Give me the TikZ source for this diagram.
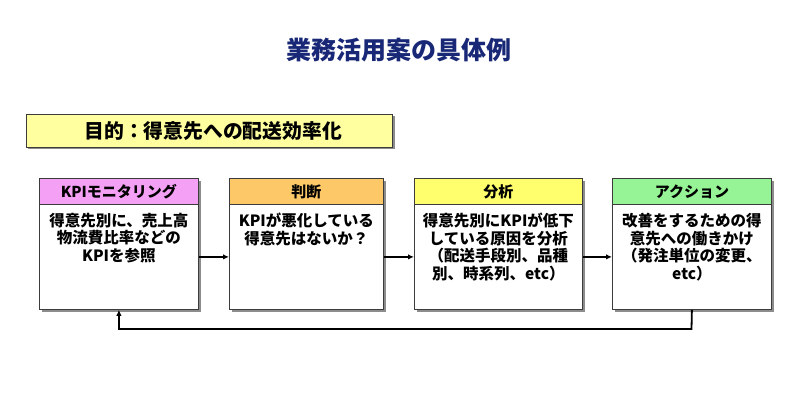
\documentclass[tikz,border=0pt]{standalone}
\usepackage{fontspec}
\setmainfont{Noto Sans CJK JP}
\usetikzlibrary{arrows.meta}
\definecolor{navy}{RGB}{24,40,118}
\definecolor{hpink}{RGB}{244,160,244}
\definecolor{horange}{RGB}{252,200,104}
\definecolor{hyellow}{RGB}{255,255,110}
\definecolor{hgreen}{RGB}{150,244,150}
\definecolor{goalfill}{RGB}{255,255,160}
\definecolor{edge}{RGB}{60,60,60}
\tikzset{
  shadowbox/.style={fill=black!45, draw=none},
  headbox/.style={draw=edge, line width=0.8pt, anchor=north west, minimum height=26pt, inner sep=0pt, font=\bfseries\fontsize{15}{17}\selectfont},
  bodybox/.style={draw=edge, line width=0.8pt, fill=white, anchor=north west, minimum height=105pt, inner sep=0pt},
  bodytext/.style={anchor=north, align=center, inner sep=0pt, font=\bfseries\fontsize{15.5}{17.5}\selectfont},
  arr/.style={line width=1.8pt, -{Latex[length=6pt,width=5.5pt]}},
}
\begin{document}
\begin{tikzpicture}[x=1pt,y=-1pt]
\useasboundingbox (0,0) rectangle (800,400);
% title
\node[font=\bfseries\fontsize{25}{28}\selectfont, text=navy] (title) at (399,50) {業務活用案の具体例};
% goal
\fill[shadowbox] (28,116) rectangle (395,149);
\node[draw=edge, line width=0.8pt, fill=goalfill, anchor=north west, minimum width=366pt, minimum height=33pt, inner sep=0pt] (goal) at (26,114) {};
\node[font=\bfseries\fontsize{19.8}{22}\selectfont, anchor=west] (goaltext) at (81,131) {目的：得意先への配送効率化};
% boxes
\foreach \L/\R in {39/198, 229/383, 414/582, 612/771}{
  \fill[shadowbox] (\L+3,181) rectangle (\R+3,312);
}
\node[bodybox, minimum width=159pt] (b1) at (39,204) {};
\node[headbox, fill=hpink, minimum width=159pt] (h1) at (39,178) {KPIモニタリング};
\node[bodybox, minimum width=154pt] (b2) at (229,204) {};
\node[headbox, fill=horange, minimum width=154pt] (h2) at (229,178) {判断};
\node[bodybox, minimum width=168pt] (b3) at (414,204) {};
\node[headbox, fill=hyellow, minimum width=168pt] (h3) at (414,178) {分析};
\node[bodybox, minimum width=159pt] (b4) at (612,204) {};
\node[headbox, fill=hgreen, minimum width=159pt] (h4) at (612,178) {アクション};
% texts
\node[bodytext] (t1) at ([yshift=-9pt]b1.north) {得意先別に、売上高\\物流費比率などの\\KPIを参照};
\node[bodytext] (t2) at ([yshift=-9pt]b2.north) {KPIが悪化している\\得意先はないか？};
\node[bodytext] (t3) at ([yshift=-9pt]b3.north) {得意先別にKPIが低下\\している原因を分析\\（配送手段別、品種\\別、時系列、etc）};
\node[bodytext] (t4) at ([yshift=-9pt]b4.north) {改善をするための得\\意先への働きかけ\\（発注単位の変更、\\etc）};
% arrows
\draw[arr] (b1.east) -- (b2.west);
\draw[arr] (b2.east) -- (b3.west);
\draw[arr] (b3.east) -- (b4.west);
\coordinate (fb) at (691.5,329);
\draw[arr] (b4.south) -- (fb) -| (b1.south);
\end{tikzpicture}
\end{document}
